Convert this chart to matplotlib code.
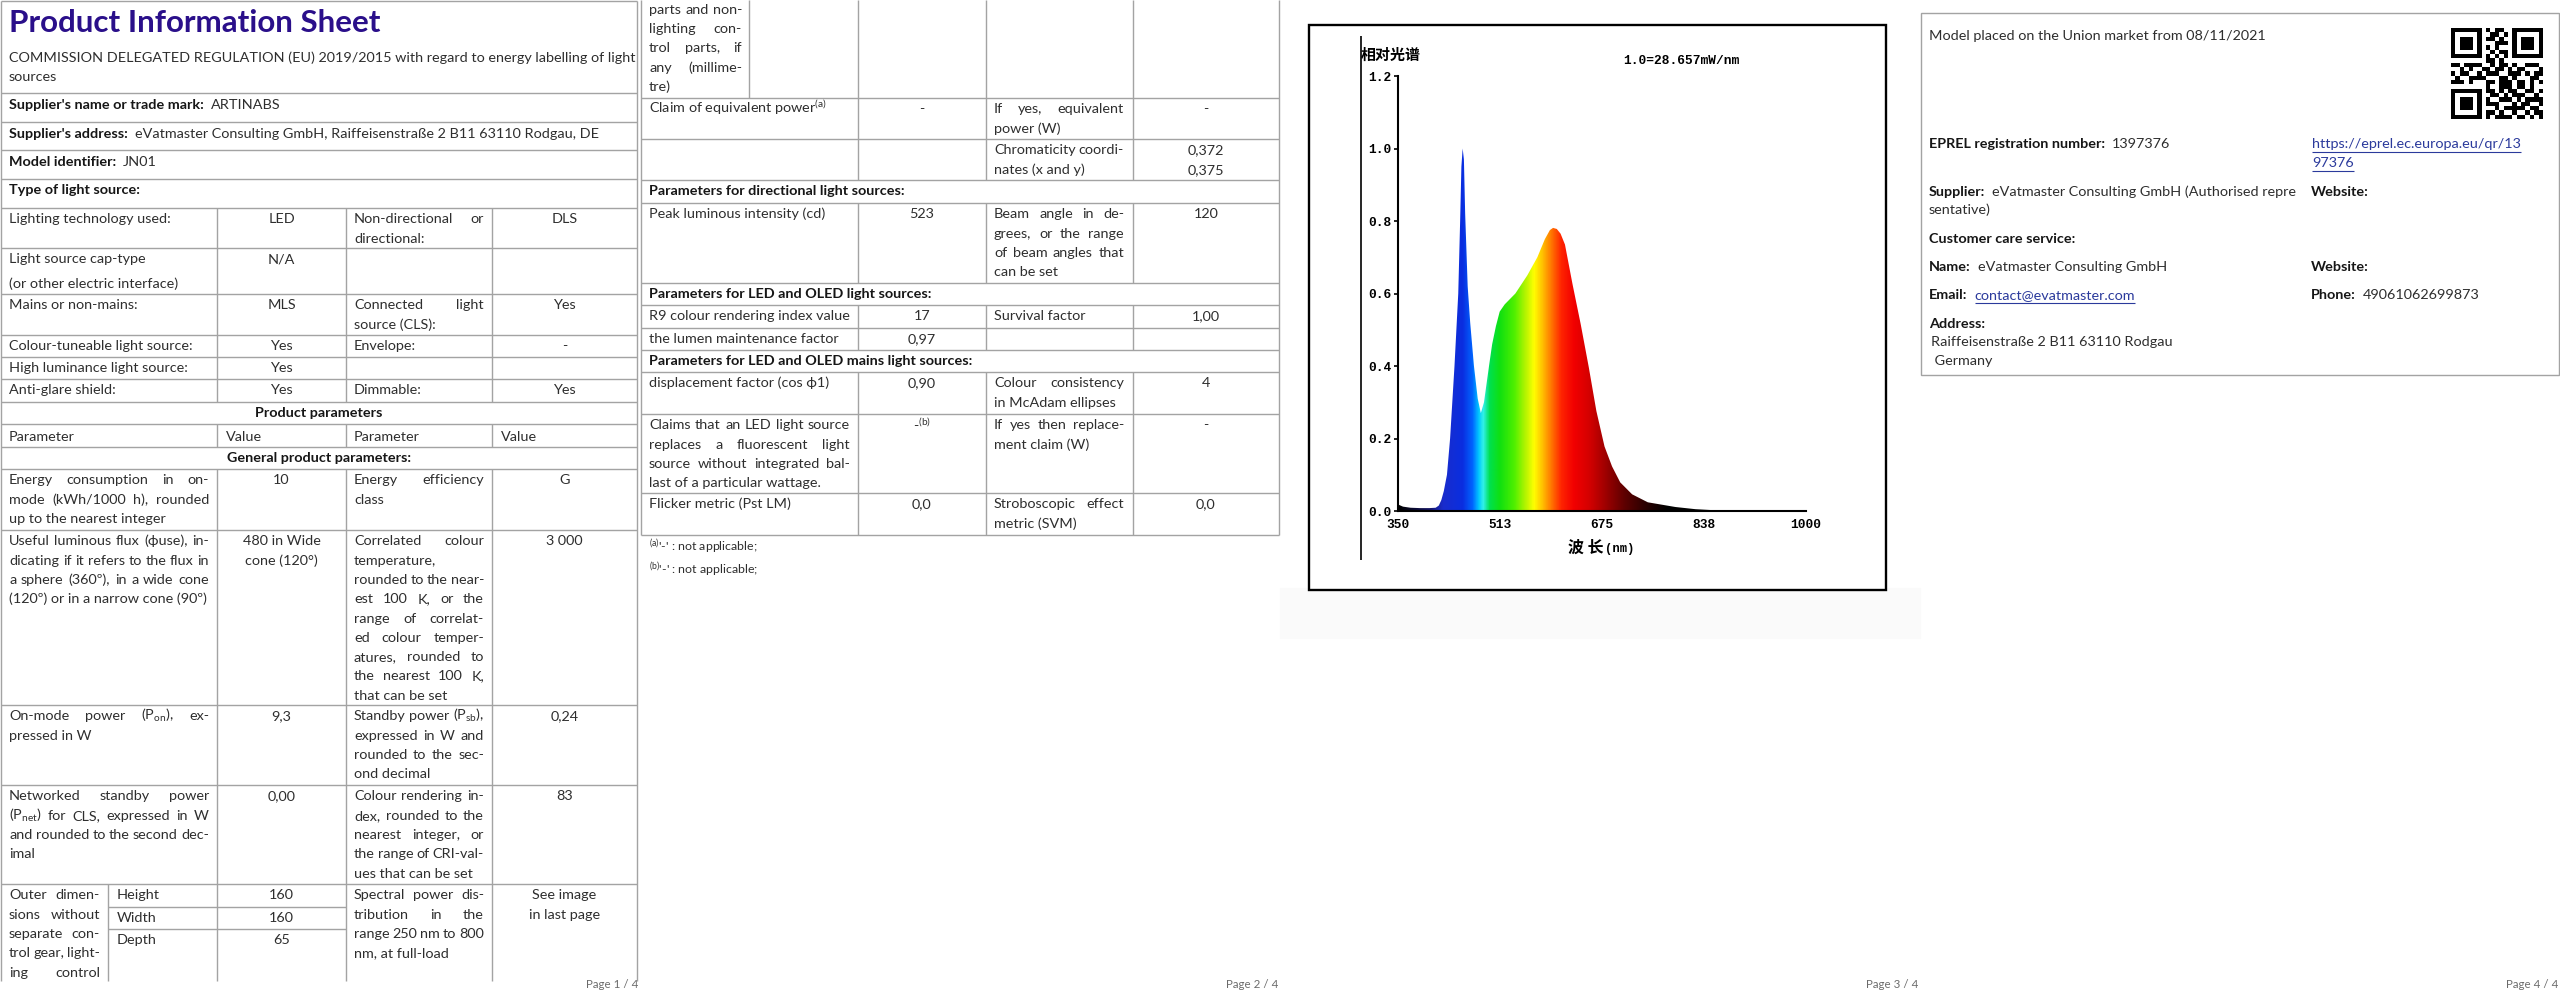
import numpy as np
import matplotlib
matplotlib.use('Agg')
import matplotlib.pyplot as plt
from matplotlib.colors import LinearSegmentedColormap
from matplotlib.patches import Polygon, Rectangle

plt.rcParams['font.family'] = ['Lato', 'DejaVu Sans']
plt.rcParams['mathtext.fontset'] = 'custom'
plt.rcParams['mathtext.rm'] = 'Lato'
plt.rcParams['mathtext.it'] = 'Lato:italic'
plt.rcParams['mathtext.bf'] = 'Lato:bold'
plt.rcParams['mathtext.default'] = 'regular'

# ---- spectrum (page 3), 1.0 = 28.657 mW/nm ----
wavelength = [350, 358, 370, 385, 400, 410, 415, 419, 423, 428, 433, 440, 446, 449, 451,
              453, 455, 457, 461, 465, 471, 477, 482, 487, 491, 495, 500, 506, 512, 520,
              537, 556, 572, 584, 592, 597, 603, 609, 616, 628, 641, 654, 666, 679, 691,
              704, 723, 748, 792, 824, 855, 900, 1000]
rel_power = [0.018, 0.012, 0.009, 0.008, 0.008, 0.009, 0.015, 0.03, 0.055, 0.10, 0.20, 0.40, 0.60, 0.80, 0.95,
             1.00, 0.97, 0.82, 0.62, 0.52, 0.40, 0.31, 0.27, 0.30, 0.35, 0.40, 0.46, 0.51, 0.55, 0.57,
             0.60, 0.65, 0.70, 0.75, 0.775, 0.781, 0.778, 0.765, 0.735, 0.626, 0.516, 0.396, 0.276, 0.178, 0.123,
             0.079, 0.046, 0.024, 0.011, 0.005, 0.002, 0.001, 0.001]
x_ticks = [350, 513, 675, 838, 1000]
y_ticks = [0.0, 0.2, 0.4, 0.6, 0.8, 1.0, 1.2]

# ---- page 1 texts ----
title = 'Product Information Sheet'
regulation = 'COMMISSION DELEGATED REGULATION (EU) 2019/2015 with regard to energy labelling of light\nsources'
head_fields = [("Supplier's name or trade mark:", 'ARTINABS'),
               ("Supplier's address:", 'eVatmaster Consulting GmbH, Raiffeisenstraße 2 B11 63110 Rodgau, DE'),
               ('Model identifier:', 'JN01')]
type_rows = [
    ('Lighting technology used:', 'LED', 'Non-directional or\ndirectional:', 'DLS'),
    ('Light source cap-type', 'N/A', '', ''),
    ('Mains or non-mains:', 'MLS', 'Connected light\nsource (CLS):', 'Yes'),
    ('Colour-tuneable light source:', 'Yes', 'Envelope:', '-'),
    ('High luminance light source:', 'Yes', '', ''),
    ('Anti-glare shield:', 'Yes', 'Dimmable:', 'Yes'),
]
cap_note = '(or other electric interface)'
param_head = ['Parameter', 'Value', 'Parameter', 'Value']
general_rows = [
    ('Energy consumption in on-\nmode (kWh/1000 h), rounded\nup to the nearest integer', '10',
     'Energy efficiency\nclass', 'G'),
    ('Useful luminous flux (ϕuse), in-\ndicating if it refers to the flux in\na sphere (360º), in a wide cone\n'
     '(120º) or in a narrow cone (90º)', '480 in Wide\ncone (120°)',
     'Correlated colour\ntemperature,\nrounded to the near-\nest 100 K, or the\nrange of correlat-\n'
     'ed colour temper-\natures, rounded to\nthe nearest 100 K,\nthat can be set', '3 000'),
    ('On-mode power (P$_{on}$), ex-\npressed in W', '9,3',
     'Standby power (P$_{sb}$),\nexpressed in W and\nrounded to the sec-\nond decimal', '0,24'),
    ('Networked standby power\n(P$_{net}$) for CLS, expressed in W\nand rounded to the second dec-\nimal', '0,00',
     'Colour rendering in-\ndex, rounded to the\nnearest integer, or\nthe range of CRI-val-\nues that can be set', '83'),
]
outer_dims = 'Outer dimen-\nsions without\nseparate con-\ntrol gear, light-\ning control\n'
dims_names = ['Height', 'Width', 'Depth']
dims_values = ['160', '160', '65']
spd_cell = 'Spectral power dis-\ntribution in the\nrange 250 nm to 800\nnm, at full-load'
spd_value = 'See image\nin last page'

# ---- page 2 texts ----
outer_dims_cont = 'parts and non-\nlighting con-\ntrol parts, if\nany (millime-\ntre)'
p2_rows_a = [('Claim of equivalent power$^{(a)}$', '-', 'If yes, equivalent\npower (W)', '-'),
             ('', '', 'Chromaticity coordi-\nnates (x and y)', '0,372\n0,375')]
p2_rows_b = [('Peak luminous intensity (cd)', '523',
              'Beam angle in de-\ngrees, or the range\nof beam angles that\ncan be set', '120')]
p2_rows_c = [('R9 colour rendering index value', '17', 'Survival factor', '1,00'),
             ('the lumen maintenance factor', '0,97', '', '')]
p2_rows_d = [('displacement factor (cos ϕ1)', '0,90', 'Colour consistency\nin McAdam ellipses', '4'),
             ('Claims that an LED light source\nreplaces a fluorescent light\nsource without integrated bal-\n'
              'last of a particular wattage.', '-$^{(b)}$', 'If yes then replace-\nment claim (W)', '-'),
             ('Flicker metric (Pst LM)', '0,0', 'Stroboscopic effect\nmetric (SVM)', '0,0')]
p2_bands = ['Parameters for directional light sources:',
            'Parameters for LED and OLED light sources:',
            'Parameters for LED and OLED mains light sources:']
footnotes = ["$^{(a)}$'-' : not applicable;", "$^{(b)}$'-' : not applicable;"]

# ---- page 4 texts ----
market_note = 'Model placed on the Union market from 08/11/2021'
eprel_no = '1397376'
eprel_url = ['https://eprel.ec.europa.eu/qr/13', '97376']
supplier = ['eVatmaster Consulting GmbH (Authorised repre', 'sentative)']
care_name = 'eVatmaster Consulting GmbH'
care_mail = 'contact@evatmaster.com'
care_phone = '49061062699873'
care_address = ['Raiffeisenstraße 2 B11 63110 Rodgau', ' Germany']
qr_rows = [
    '1111111' + '0' + '10110' + '0' + '1111111',
    '1000001' + '0' + '01101' + '0' + '1000001',
    '1011101' + '0' + '11010' + '0' + '1011101',
    '1011101' + '0' + '00111' + '0' + '1011101',
    '1011101' + '0' + '10100' + '0' + '1011101',
    '1000001' + '0' + '01011' + '0' + '1000001',
    '1111111' + '0' + '10101' + '0' + '1111111',
    '00000000' + '11010' + '00000000',
    '110111100101101001110',
    '001010011011010110001',
    '101100101110011101011',
    '010011110001101000110',
    '111010001101110110101',
    '00000000' + '10011' + '10110100',
    '1111111' + '0' + '11010' + '11001101',
    '1000001' + '0' + '01101' + '01110010',
    '1011101' + '0' + '10011' + '10101111',
    '1011101' + '0' + '11100' + '01011001',
    '1011101' + '0' + '00101' + '11110110',
    '1000001' + '0' + '11010' + '01001011',
    '1111111' + '0' + '10111' + '10110101',
]

# colours of the spectrum fill along the wavelength
spec_stops = [(350, '#000000'), (400, '#141466'), (420, '#1a2ccc'), (452, '#0a2ee0'), (468, '#0064ff'),
              (478, '#00c8ff'), (485, '#30f0e8'), (495, '#00e050'), (512, '#10e010'), (535, '#50f000'),
              (552, '#b0f400'), (566, '#ffff00'), (580, '#ffc000'), (595, '#ff7000'), (610, '#ff2400'),
              (630, '#f20000'), (655, '#d40000'), (680, '#a00000'), (710, '#600000'), (740, '#300000'),
              (780, '#000000'), (1000, '#000000')]

INK = '#2e2e2e'
DARK = '#161616'
RULE = '#a3a3a3'
LINK = '#2b3a9c'
LH = 19.3

fig = plt.figure(figsize=(25.6, 10.01), dpi=100)
ax = fig.add_axes([0, 0, 1, 1])
ax.set_xlim(0, 2560)
ax.set_ylim(1001, 0)
ax.set_autoscale_on(False)
ax.axis('off')
R = fig.canvas.get_renderer()


def width_of(t):
    return t.get_window_extent(renderer=R).width


# body size tuned so that this line fills its 200 px cell like in the sheet
probe = ax.text(0, 0, '(120º) or in a narrow cone (90º)', fontsize=10)
FS = 10 * 199 / width_of(probe)
probe.remove()
probe = ax.text(0, 0, title, fontsize=10, fontweight='bold')
TS = 10 * 374 / width_of(probe)
probe.remove()


def put(x, y, s, size=None, **kw):
    kw.setdefault('color', INK)
    size = size or FS
    return ax.text(x, y + 0.34 * size * 100 / 72, s, fontsize=size, va='baseline', **kw)


def para(x, y, s, width=0, ha='left', **kw):
    rows = s.split('\n')
    for i, row in enumerate(rows):
        if not row:
            continue
        yy = y + i * LH
        words = row.split(' ')
        if width and i < len(rows) - 1 and len(words) > 1:
            ts = [put(x, yy, w, **kw) for w in words]
            ws = [width_of(t) for t in ts]
            if sum(ws) > 0.55 * width:
                gap = max((width - sum(ws)) / (len(words) - 1), 2.5)
                cx = x
                for t, w in zip(ts, ws):
                    t.set_x(cx)
                    cx += w + gap
                continue
            for t in ts:
                t.remove()
        put(x, yy, row, ha=ha, **kw)


def grid(cols, tops, rows, widths):
    for top, bot, cells in zip(tops[:-1], tops[1:], rows):
        ty = top + 10.5
        para(cols[0] + 8, ty, cells[0], width=widths[0])
        para((cols[1] + cols[2]) / 2, ty, cells[1], ha='center')
        para(cols[2] + 8, ty, cells[2], width=widths[1])
        para((cols[3] + cols[4]) / 2, ty, cells[3], ha='center')
        ax.hlines(bot, cols[0], cols[4], color=RULE, lw=1)
    ax.vlines(cols[1:4], tops[0], tops[-1], color=RULE, lw=1)


def band(x0, x1, top, bot, s, center=False):
    if center:
        put((x0 + x1) / 2, top + 10.5, s, ha='center', fontweight='bold', color=DARK)
    else:
        put(x0 + 8, top + 10.5, s, fontweight='bold', color=DARK)
    ax.hlines(bot, x0, x1, color=RULE, lw=1)


def link(x, y, s):
    t = put(x, y, s, color=LINK)
    ax.hlines(y + 8.5, x, x + width_of(t), color=LINK, lw=0.8)


def field(x, y, label, value='', is_link=False):
    t = put(x, y, label, fontweight='bold', color=DARK)
    vx = x + width_of(t) + 7
    if value and is_link:
        link(vx, y, value)
    elif value:
        put(vx, y, value)


# ================= page 1 =================
P1 = [1, 217, 346, 492, 637]
ax.vlines([P1[0], P1[4]], 0.5, 981, color=RULE, lw=1)
ax.hlines(0.5, P1[0], P1[4], color=RULE, lw=1)
ax.text(9, 31.5, title, fontsize=TS, fontweight='bold', color='#2a0f8a', va='baseline')
para(9, 57, regulation)
ax.hlines(93, P1[0], P1[4], color=RULE, lw=1)
for (lab, val), top, bot in zip(head_fields, [93, 122, 150], [122, 150, 179]):
    field(9, top + 11, lab, val)
    ax.hlines(bot, P1[0], P1[4], color=RULE, lw=1)
band(P1[0], P1[4], 179, 208, 'Type of light source:')
grid(P1, [208, 248, 294, 335, 357, 379, 402], type_rows, [200, 130])
put(9, 283, cap_note)
band(P1[0], P1[4], 402, 424, 'Product parameters', center=True)
for xc, s in zip([9, 226, 354, 501], param_head):
    put(xc, 436, s)
ax.vlines(P1[1:4], 424, 447, color=RULE, lw=1)
ax.hlines(447, P1[0], P1[4], color=RULE, lw=1)
band(P1[0], P1[4], 447, 469, 'General product parameters:', center=True)
grid(P1, [469, 530, 705, 785, 884], general_rows, [200, 130])

# last row of page 1 (goes on over the page break)
para(9, 894.5, outer_dims, width=91)
for i, (nm, v) in enumerate(zip(dims_names, dims_values)):
    put(117, 894.5 + i * 22.5, nm)
    put((P1[1] + P1[2]) / 2, 894.5 + i * 22.5, v, ha='center')
ax.hlines([906.5, 929], 108, P1[2], color=RULE, lw=1)
ax.vlines(108, 884, 981, color=RULE, lw=1)
ax.vlines(P1[1:4], 884, 981, color=RULE, lw=1)
para(354, 894.5, spd_cell, width=130)
para((P1[3] + P1[4]) / 2, 894.5, spd_value, ha='center')

# ================= page 2 =================
P2 = [641, 858, 986, 1133, 1279]
ax.vlines([P2[0], P2[4]], 0, 535, color=RULE, lw=1)
para(649, 9, outer_dims_cont, width=93)
ax.vlines([749] + P2[1:4], 0, 98, color=RULE, lw=1)
ax.hlines(98, P2[0], P2[4], color=RULE, lw=1)
grid(P2, [98, 139, 180], p2_rows_a, [201, 130])
band(P2[0], P2[4], 180, 203, p2_bands[0])
grid(P2, [203, 283], p2_rows_b, [201, 130])
band(P2[0], P2[4], 283, 305, p2_bands[1])
grid(P2, [305, 328, 350], p2_rows_c, [201, 130])
band(P2[0], P2[4], 350, 372, p2_bands[2])
grid(P2, [372, 414, 493, 535], p2_rows_d, [201, 130])
for i, s in enumerate(footnotes):
    put(649, 547 + i * 23, s, size=FS * 0.86)

# ================= page 3 : spectrum picture =================
ax.add_patch(Rectangle((1280, 588), 640, 50, color='#fafafa', zorder=0))
ax.add_patch(Rectangle((1309, 24.5), 577, 565.5, fill=False, ec='black', lw=1.7, zorder=2))
ax.add_patch(Rectangle((1310, 25.5), 575, 563.5, color='white', zorder=1))
ax.vlines(1361, 36, 560, color='black', lw=1.2, zorder=3)
ax.text(1361, 55, '相对光谱', fontsize=10.8, fontweight='bold', va='center',
        family=['Noto Sans CJK SC', 'DejaVu Sans'], color='black', zorder=3)
ax.text(1623, 61, '1.0=28.657mW/nm', fontsize=9.3, fontweight='bold', va='center',
        family='Liberation Mono', color='black', zorder=3)
t = ax.text(1568, 548, '波 长', fontsize=11.5, fontweight='bold', va='center',
            family=['Noto Sans CJK SC', 'DejaVu Sans'], color='black', zorder=3)
ax.text(1568 + width_of(t) + 1, 549, '(nm)', fontsize=8.8, fontweight='bold', va='center',
        family='Liberation Mono', color='black', zorder=3)

x0, x1, yt, yb = 1398, 1806, 76, 511
cax = fig.add_axes([x0 / 2560, 1 - yb / 1001, (x1 - x0) / 2560, (yb - yt) / 1001], zorder=5)
cax.patch.set_alpha(0)
spec_cmap = LinearSegmentedColormap.from_list('spec', [((w - 350) / 650, c) for w, c in spec_stops])
im = cax.imshow(np.linspace(0, 1, 1300)[None, :], extent=[350, 1000, 0, 1.2], aspect='auto',
                cmap=spec_cmap, vmin=0, vmax=1, origin='lower', interpolation='bilinear')
shape = Polygon(list(zip(wavelength, rel_power)) + [(1000, 0), (350, 0)], closed=True,
                facecolor='none', edgecolor='none', transform=cax.transData)
cax.add_patch(shape)
im.set_clip_path(shape)
cax.set_xlim(350, 1000)
cax.set_ylim(0, 1.2)
for side in ['top', 'right']:
    cax.spines[side].set_visible(False)
for side in ['left', 'bottom']:
    cax.spines[side].set_linewidth(1.5)
cax.set_xticks(x_ticks, labels=[str(v) for v in x_ticks], fontfamily='Liberation Mono',
               fontweight='bold', fontsize=9.3)
cax.set_yticks(y_ticks, labels=['%.1f' % v for v in y_ticks], fontfamily='Liberation Mono',
               fontweight='bold', fontsize=9.3)
cax.tick_params(axis='y', direction='out', length=3, width=1.2, pad=1.5)
cax.tick_params(axis='x', length=0, pad=6)

# ================= page 4 =================
ax.add_patch(Rectangle((1920.5, 13), 638, 362, fill=False, ec=RULE, lw=1))
put(1929, 35, market_note)
qr = np.array([[int(c) for c in row] for row in qr_rows])
ax.imshow(qr, cmap='gray_r', extent=[2451, 2543, 119, 28], aspect='auto', interpolation='nearest',
          vmin=0, vmax=1)
field(1929, 143, 'EPREL registration number:', eprel_no)
link(2312, 143, eprel_url[0])
link(2312, 162, eprel_url[1])
field(1929, 191, 'Supplier:', supplier[0])
put(1929, 209, supplier[1])
field(2311, 191, 'Website:')
field(1929, 238, 'Customer care service:')
field(1929, 266, 'Name:', care_name)
field(2311, 266, 'Website:')
field(1929, 294, 'Email:', care_mail, is_link=True)
field(2311, 294, 'Phone:', care_phone)
field(1929, 323, 'Address:')
put(1931, 341, care_address[0])
put(1931, 360, care_address[1])

# page numbers
for k in range(4):
    put(638 + 640 * k, 984, 'Page %d / 4' % (k + 1), size=FS * 0.8, ha='right', color='#6b6b6b')

ax.set_xlim(0, 2560)
ax.set_ylim(1001, 0)
fig.savefig('out.png', dpi=100)
